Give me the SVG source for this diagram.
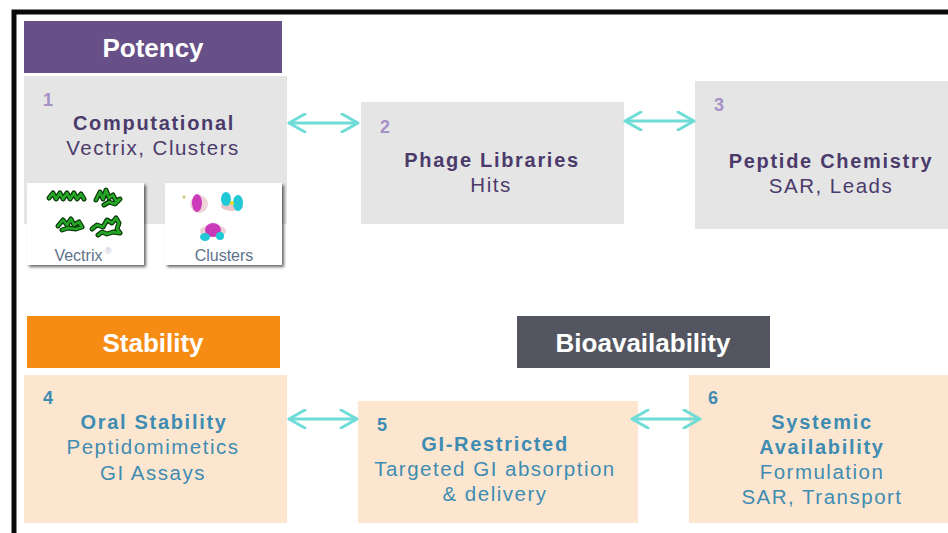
<svg xmlns="http://www.w3.org/2000/svg" width="948" height="533" viewBox="0 0 948 533">
<defs>
<marker id="ah" viewBox="0 0 20 20" refX="18" refY="10" markerWidth="20" markerHeight="20" markerUnits="userSpaceOnUse" orient="auto-start-reverse">
<path d="M2,1 L18,10 L2,19" fill="none" stroke="#6fdcd8" stroke-width="3" stroke-linecap="round" stroke-linejoin="round"/>
</marker>
<filter id="sh" x="-10%" y="-10%" width="125%" height="125%">
<feDropShadow dx="2" dy="2" stdDeviation="1.5" flood-color="#000" flood-opacity="0.6"/>
</filter>
</defs>
<style>
.hdr{font-family:"Liberation Sans",Arial,sans-serif;font-weight:bold;font-size:26px;fill:#ffffff;text-anchor:middle}
.num{font-family:"Liberation Sans",Arial,sans-serif;font-weight:bold;font-size:18px}
.ttl{font-family:"Liberation Sans",Arial,sans-serif;font-weight:bold;font-size:20px;letter-spacing:1.7px;text-anchor:middle}
.sub{font-family:"Liberation Sans",Arial,sans-serif;font-size:20.5px;letter-spacing:1.5px;text-anchor:middle}
.gray{fill:#e5e5e5}
.peach{fill:#fde6cf}
.pur{fill:#4b3b6b}
.pnum{fill:#a690c6}
.blu{fill:#3f8cb2}
.cap{font-family:"Liberation Sans",Arial,sans-serif;font-size:16px;fill:#5e728c;text-anchor:middle}
.mol{fill:none;stroke-linecap:round;stroke-linejoin:round}
.conn{fill:none;stroke:#6fdcd8;stroke-width:3;marker-start:url(#ah);marker-end:url(#ah)}
</style>
<rect width="948" height="533" fill="#ffffff"/>
<rect x="14" y="12" width="950" height="540" fill="none" stroke="#0a0a0a" stroke-width="5"/>

<g id="hdr-potency">
<rect x="24" y="21" width="258" height="52" fill="#674f87"/>
<text class="hdr" x="153" y="57">Potency</text>
</g>
<g id="hdr-stability">
<rect x="27" y="316" width="253" height="52" fill="#f78c14"/>
<text class="hdr" x="153" y="352">Stability</text>
</g>
<g id="hdr-bioavailability">
<rect x="517" y="316" width="253" height="52" fill="#535660"/>
<text class="hdr" x="643" y="352" font-size="27">Bioavailability</text>
</g>

<g id="node1">
<rect class="gray" x="24" y="76" width="263" height="148"/>
<text class="num pnum" x="43" y="106">1</text>
<text class="ttl pur" x="154" y="130">Computational</text>
<text class="sub pur" x="153" y="155">Vectrix, Clusters</text>
<g id="img-vectrix" filter="url(#sh)">
<rect x="27" y="183" width="117" height="82" fill="#ffffff"/>
</g>
<g class="mol" stroke="#0b3a0b" stroke-width="5">
<path d="M49,198 l4,-5 l3,6 l4,-6 l3,6 l4,-6 l3,6 l4,-6 l3,6 l4,-5 l3,5"/>
<path d="M96,200 l4,-8 l3,7 l3,-9 l3,8 l4,-3 l3,6 l4,-2 l-5,5 l-6,-2 l-5,3"/>
<path d="M58,226 l5,-6 l4,5 l4,-6 l3,6 l5,-3 l3,5 l-6,2 l-8,-1 l-6,2"/>
<path d="M92,229 l5,-4 l6,2 l4,-7 l5,3 l4,-5 l3,5 l-2,6 l3,4 l-7,-1 l-6,2 l-5,-2 l-4,3"/>
</g>
<g class="mol" stroke="#25a825" stroke-width="2.5">
<path d="M49,198 l4,-5 l3,6 l4,-6 l3,6 l4,-6 l3,6 l4,-6 l3,6 l4,-5 l3,5"/>
<path d="M96,200 l4,-8 l3,7 l3,-9 l3,8 l4,-3 l3,6 l4,-2 l-5,5 l-6,-2 l-5,3"/>
<path d="M58,226 l5,-6 l4,5 l4,-6 l3,6 l5,-3 l3,5 l-6,2 l-8,-1 l-6,2"/>
<path d="M92,229 l5,-4 l6,2 l4,-7 l5,3 l4,-5 l3,5 l-2,6 l3,4 l-7,-1 l-6,2 l-5,-2 l-4,3"/>
</g>
<text class="cap" x="83" y="261">Vectrix<tspan font-size="9" dy="-7" fill="#b8c0cc"> ®</tspan></text>
<g id="img-clusters" filter="url(#sh)">
<rect x="165" y="183" width="117" height="82" fill="#ffffff"/>
</g>
<g>
<ellipse cx="199" cy="204" rx="9" ry="9" fill="#e2b8c0" opacity="0.6"/>
<ellipse cx="197" cy="203" rx="5" ry="9" fill="#c31fb3" opacity="0.85"/>
<ellipse cx="232" cy="206" rx="11" ry="5" fill="#d8a0a8" opacity="0.6"/>
<ellipse cx="226" cy="199" rx="5" ry="7" fill="#21c9d6"/>
<ellipse cx="238" cy="203" rx="5" ry="8" fill="#21c9d6"/>
<ellipse cx="232" cy="203" rx="2" ry="2" fill="#e6e020"/>
<ellipse cx="213" cy="231" rx="13" ry="6" fill="#d8a0a8" opacity="0.5"/>
<ellipse cx="213" cy="230" rx="8" ry="7" fill="#c31fb3" opacity="0.85"/>
<ellipse cx="205" cy="237" rx="5" ry="4" fill="#21c9d6"/>
<ellipse cx="220" cy="236" rx="4" ry="4" fill="#21c9d6"/>
<circle cx="184" cy="197" r="1.5" fill="#d0c070"/>
</g>
<text class="cap" x="224" y="261">Clusters</text>
</g>

<g id="node2">
<rect class="gray" x="361" y="102" width="263" height="122"/>
<text class="num pnum" x="380" y="133">2</text>
<text class="ttl pur" x="492" y="167">Phage Libraries</text>
<text class="sub pur" x="491" y="192">Hits</text>
</g>

<g id="node3">
<rect class="gray" x="695" y="81" width="260" height="148"/>
<text class="num pnum" x="714" y="111">3</text>
<text class="ttl pur" x="831" y="168">Peptide Chemistry</text>
<text class="sub pur" x="831" y="193">SAR, Leads</text>
</g>

<g id="node4">
<rect class="peach" x="24" y="375" width="263" height="148"/>
<text class="num blu" x="43" y="404">4</text>
<text class="ttl blu" x="154" y="429">Oral Stability</text>
<text class="sub blu" x="153" y="454">Peptidomimetics</text>
<text class="sub blu" x="153" y="480">GI Assays</text>
</g>

<g id="node5">
<rect class="peach" x="358" y="401" width="280" height="122"/>
<text class="num blu" x="377" y="431">5</text>
<text class="ttl blu" x="495" y="451">GI-Restricted</text>
<text class="sub blu" x="495" y="476">Targeted GI absorption</text>
<text class="sub blu" x="495" y="501">&amp; delivery</text>
</g>

<g id="node6">
<rect class="peach" x="689" y="375" width="266" height="148"/>
<text class="num blu" x="708" y="404">6</text>
<text class="ttl blu" x="822" y="429">Systemic</text>
<text class="ttl blu" x="822" y="454">Availability</text>
<text class="sub blu" x="822" y="479">Formulation</text>
<text class="sub blu" x="822" y="504">SAR, Transport</text>
</g>

<g id="connectors">
<line class="conn" x1="289" y1="123" x2="358" y2="123"/>
<line class="conn" x1="625" y1="121" x2="694" y2="121"/>
<line class="conn" x1="289" y1="419" x2="357" y2="419"/>
<line class="conn" x1="632" y1="419" x2="700" y2="419"/>
</g>
</svg>
